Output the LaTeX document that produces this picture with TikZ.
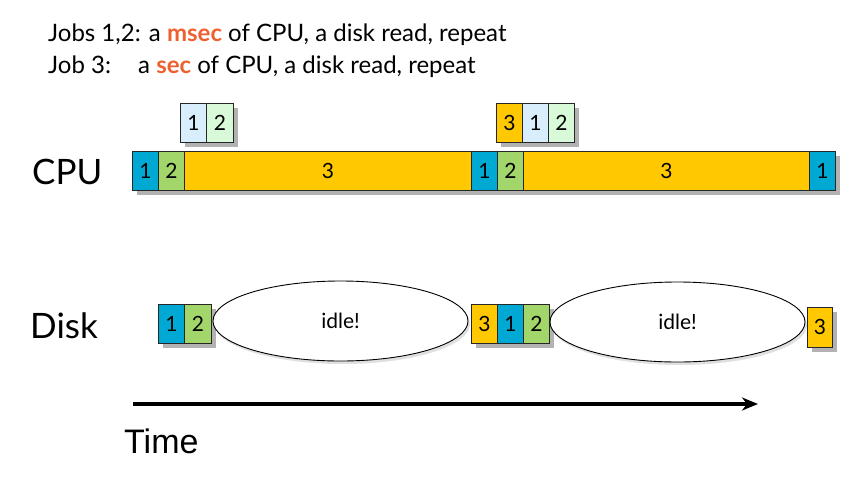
\documentclass[tikz,border=0pt]{standalone}
\usepackage{fontspec}
\setmainfont{Lato}
\newfontfamily\arialfont{Liberation Sans}
\usetikzlibrary{shapes.geometric,shadows,arrows.meta}
\definecolor{jobone}{HTML}{00A9D4}
\definecolor{jobtwo}{HTML}{A2D66A}
\definecolor{jobthree}{HTML}{FFC800}
\definecolor{lightone}{HTML}{D8EEFC}
\definecolor{lighttwo}{HTML}{D8FAD8}
\definecolor{hilite}{HTML}{EE6030}
\tikzset{
  cell/.style={draw=black!85, line width=0.8pt, inner sep=0pt, minimum height=39pt,
    anchor=north west, font=\fontsize{21}{23}\selectfont,
    general shadow={fill=black!30, shadow xshift=5pt, shadow yshift=-5pt}},
  idle/.style={ellipse, draw=black, line width=0.9pt, fill=white, inner sep=0pt,
    minimum width=255pt, minimum height=80pt, font=\fontsize{21}{23}\selectfont,
    general shadow={fill=black!12, shadow xshift=2pt, shadow yshift=-3pt}},
  rowlabel/.style={anchor=west, font=\fontsize{35}{38}\selectfont, inner sep=0pt},
  headline/.style={anchor=base west, font=\fontsize{24}{27}\selectfont, inner sep=0pt},
}
\begin{document}
\begin{tikzpicture}[x=1pt,y=-1pt]
\useasboundingbox (0,0) rectangle (859,482);
% header text
\node[headline] (h1) at (48,41) {Jobs 1,2: a \textcolor{hilite}{\textbf{msec}} of CPU, a disk read, repeat};
\node[headline] (h2) at (48,73) {Job 3:};
\node[headline] (h2b) at (138,73) {a \textcolor{hilite}{\textbf{sec}} of CPU, a disk read, repeat};
% row labels
\node[rowlabel] (cpu) at (32,172) {CPU};
\node[rowlabel] (disk) at (30,326) {Disk};
% ready queues above CPU
\node[cell, fill=lightone, minimum width=26pt] (q1a) at (180,103) {1};
\node[cell, fill=lighttwo, minimum width=27pt] (q1b) at (206,103) {2};
\node[cell, fill=jobthree, minimum width=26pt] (q2a) at (496,103) {3};
\node[cell, fill=lightone, minimum width=26pt] (q2b) at (522,103) {1};
\node[cell, fill=lighttwo, minimum width=26pt] (q2c) at (548,103) {2};
% CPU timeline
\node[cell, fill=jobone, minimum width=26pt] (c1) at (132,151) {1};
\node[cell, fill=jobtwo, minimum width=26pt] (c2) at (158,151) {2};
\node[cell, fill=jobthree, minimum width=287pt] (c3) at (184,151) {3};
\node[cell, fill=jobone, minimum width=26pt] (c4) at (471,151) {1};
\node[cell, fill=jobtwo, minimum width=26pt] (c5) at (497,151) {2};
\node[cell, fill=jobthree, minimum width=286pt] (c6) at (523,151) {3};
\node[cell, fill=jobone, minimum width=26pt] (c7) at (809,151) {1};
% Disk timeline
\node[cell, fill=jobone, minimum width=26pt] (d1) at (158,304) {1};
\node[cell, fill=jobtwo, minimum width=27pt] (d2) at (184,304) {2};
\node[idle] (i1) at (340.5,321) {idle!};
\node[cell, fill=jobthree, minimum width=26pt] (d3) at (471,304) {3};
\node[cell, fill=jobone, minimum width=26pt] (d4) at (497,304) {1};
\node[cell, fill=jobtwo, minimum width=26pt] (d5) at (523,304) {2};
\node[idle] (i2) at (677.5,322) {idle!};
\node[cell, fill=jobthree, minimum width=25pt, minimum height=40pt] (d6) at (807,307) {3};
% time arrow
\coordinate (t0) at (133,404);
\coordinate (t1) at (758,404);
\draw[line width=4pt, -{Stealth[length=16pt,width=13pt,inset=5pt]}] (t0) -- (t1);
\node[anchor=west, font=\arialfont\fontsize{34}{37}\selectfont, inner sep=0pt] (time) at (124,441) {Time};
\end{tikzpicture}
\end{document}
